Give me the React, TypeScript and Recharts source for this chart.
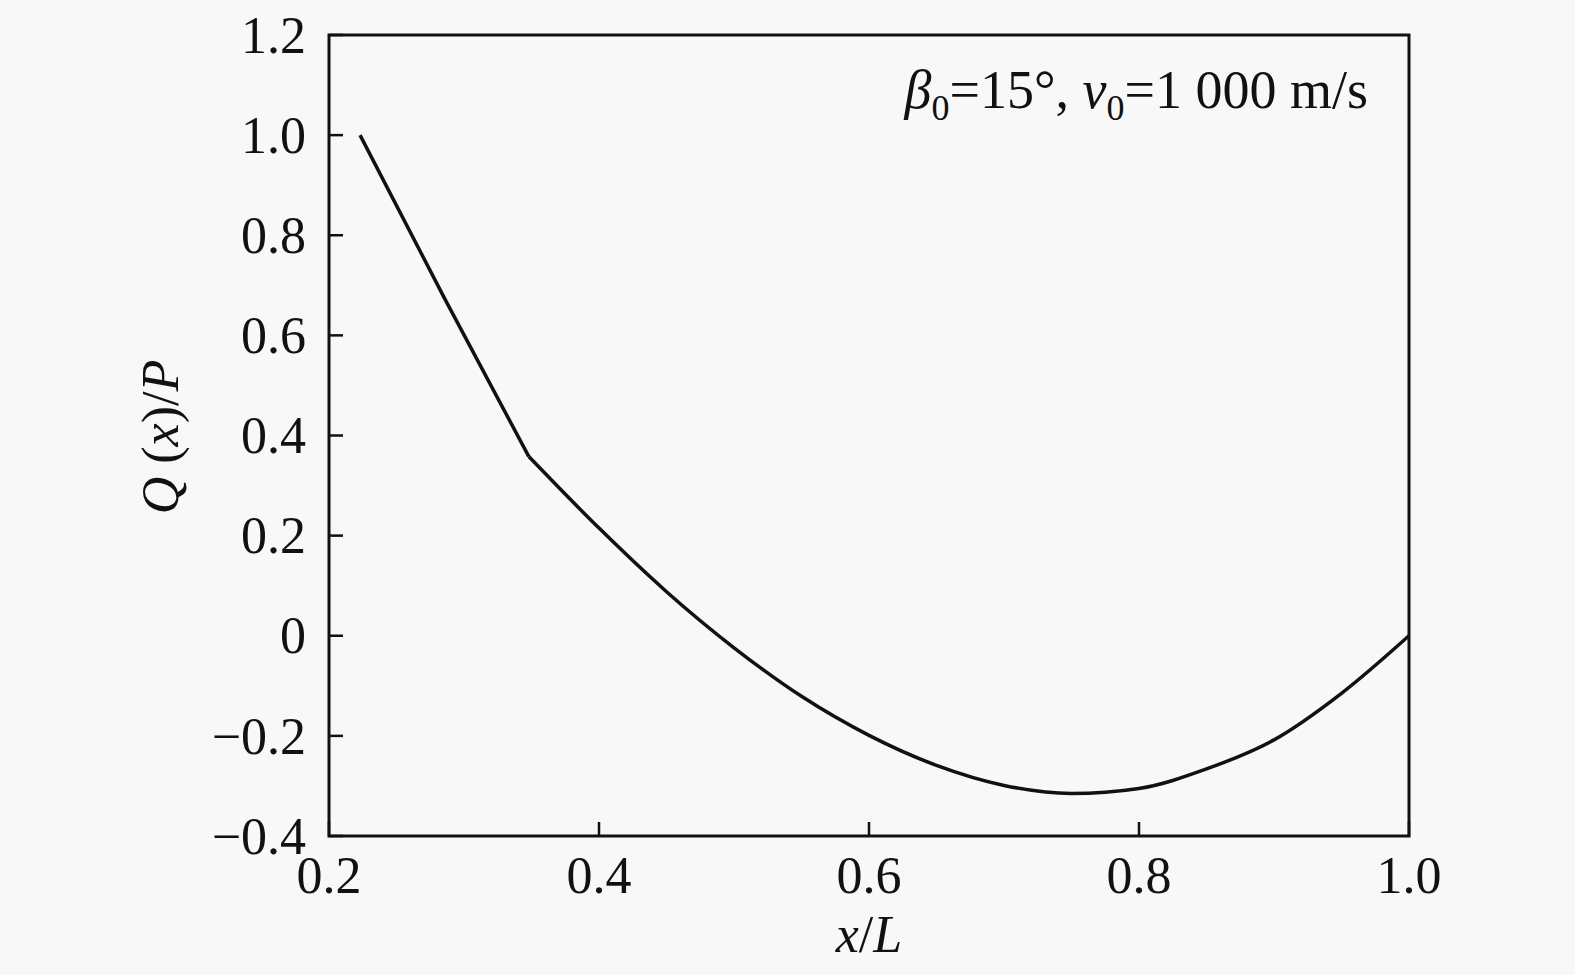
import React from 'react';
import { LineChart, Line, XAxis, YAxis, ReferenceArea, Customized } from 'recharts';

// steep initial branch (up to the kink) and the smooth branch after it
const xValues = [0.223, 0.285, 0.348, 0.4, 0.45, 0.5, 0.55, 0.6, 0.65, 0.7, 0.75, 0.8, 0.85, 0.9, 0.95, 1.0];
const qSteep = [1.0, 0.677, 0.358];
const qSmooth = [0.358, 0.215, 0.088, -0.024, -0.121, -0.199, -0.259, -0.299, -0.315, -0.305, -0.266, -0.208, -0.115, 0.0];
const xTicks = [0.2, 0.4, 0.6, 0.8, 1.0];
const yTicks = [-0.4, -0.2, 0, 0.2, 0.4, 0.6, 0.8, 1.0, 1.2];

const KINK = qSteep.length - 1;
const data = xValues.map((x, i) => ({
  x,
  q1: i <= KINK ? qSteep[i] : undefined,
  q2: i >= KINK ? qSmooth[i - KINK] : undefined,
}));

const FONT = '"Liberation Serif", "Times New Roman", serif';
const TICK_FS = 52;
const INK = '#111';
const Y_MARGIN = 23;
const X_MARGIN = 22;
const TICK_LEN = 14;

const fmt = (v: number) => {
  if (Math.abs(v) < 1e-9) return '0';
  const s = Math.abs(v).toFixed(1);
  return v < 0 ? '\u2212' + s : s;
};

const YTick = (props: any) => {
  const { x, y, payload } = props;
  const axisX = x + Y_MARGIN;
  return (
    <g>
      <line x1={axisX} x2={axisX + TICK_LEN} y1={y} y2={y} stroke={INK} strokeWidth={2.5} />
      <text x={x} y={y} dy="0.34em" textAnchor="end" fontFamily={FONT} fontSize={TICK_FS} fill={INK}>
        {fmt(payload.value)}
      </text>
    </g>
  );
};

const XTick = (props: any) => {
  const { x, y, payload } = props;
  const axisY = y - X_MARGIN;
  return (
    <g>
      <line x1={x} x2={x} y1={axisY} y2={axisY - TICK_LEN} stroke={INK} strokeWidth={2.5} />
      <text x={x} y={y} dy="0.68em" textAnchor="middle" fontFamily={FONT} fontSize={TICK_FS} fill={INK}>
        {fmt(payload.value)}
      </text>
    </g>
  );
};

const Labels = () => (
  <g fontFamily={FONT} fill={INK}>
    <text x={869} y={952} textAnchor="middle" fontSize={52}>
      <tspan fontStyle="italic">x</tspan>
      <tspan>/</tspan>
      <tspan fontStyle="italic">L</tspan>
    </text>
    <text x={178} y={437} textAnchor="middle" fontSize={52} transform="rotate(-90, 178, 437)">
      <tspan fontStyle="italic">Q</tspan>
      <tspan> (</tspan>
      <tspan fontStyle="italic">x</tspan>
      <tspan>)/</tspan>
      <tspan fontStyle="italic">P</tspan>
    </text>
    <text x={1368} y={108} textAnchor="end" fontSize={54}>
      <tspan fontStyle="italic">β</tspan>
      <tspan fontSize={36} dy={12}>0</tspan>
      <tspan dy={-12}>=15°, </tspan>
      <tspan fontStyle="italic">v</tspan>
      <tspan fontSize={36} dy={12}>0</tspan>
      <tspan dy={-12}>=1 000 m/s</tspan>
    </text>
  </g>
);

export default function App() {
  return (
    <div style={{ position: 'absolute', left: 0, top: 0, width: 1575, height: 975, background: '#f8f8f8' }}>
      <LineChart
        width={1575}
        height={975}
        data={data}
        margin={{ top: 35, right: 166, bottom: 79, left: 209 }}
      >
        <XAxis
          type="number"
          dataKey="x"
          domain={[0.2, 1.0]}
          ticks={xTicks}
          allowDataOverflow
          axisLine={false}
          tickLine={false}
          tickSize={0}
          tickMargin={X_MARGIN}
          height={60}
          tick={<XTick />}
          interval={0}
        />
        <YAxis
          type="number"
          domain={[-0.4, 1.2]}
          ticks={yTicks}
          allowDataOverflow
          axisLine={false}
          tickLine={false}
          tickSize={0}
          tickMargin={Y_MARGIN}
          width={120}
          tick={<YTick />}
          interval={0}
        />
        <ReferenceArea
          x1={0.2}
          x2={1.0}
          y1={-0.4}
          y2={1.2}
          fill="none"
          stroke={INK}
          strokeWidth={3}
          ifOverflow="visible"
        />
        <Line
          type="monotone"
          dataKey="q1"
          stroke={INK}
          strokeWidth={3.5}
          strokeLinejoin="round"
          dot={false}
          connectNulls={false}
          isAnimationActive={false}
        />
        <Line
          type="monotone"
          dataKey="q2"
          stroke={INK}
          strokeWidth={3.5}
          strokeLinejoin="round"
          dot={false}
          connectNulls={false}
          isAnimationActive={false}
        />
        <Customized component={<Labels />} />
      </LineChart>
    </div>
  );
}
